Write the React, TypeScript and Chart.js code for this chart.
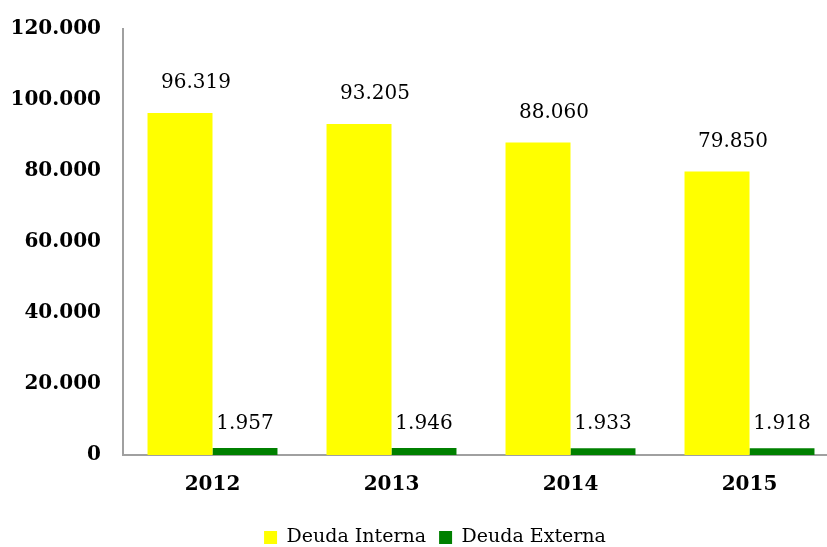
import React, { useEffect, useRef } from "react";
import { Chart, registerables } from "chart.js";

Chart.register(...registerables);

const years = ["2012", "2013", "2014", "2015"];
const deudaInterna = [96319, 93205, 88060, 79850];
const deudaExterna = [1957, 1946, 1933, 1918];
const seriesNames = ["Deuda Interna", "Deuda Externa"];
const seriesColors = ["#FFFF00", "#008000"];

const fmt = (v: number) =>
  Math.round(v).toString().replace(/\B(?=(\d{3})+(?!\d))/g, ".");

const SERIF = "'DejaVu Serif', serif";
const W = 860;
const H = 557;

const labelPlugin = {
  id: "valueLabels",
  afterUpdate(chart: any) {
    const y = chart.scales.y;
    if (y) y._computeLabelArea = () => undefined;
  },
  afterDatasetsDraw(chart: any) {
    const ctx = chart.ctx;
    ctx.save();
    ctx.font = `20px ${SERIF}`;
    ctx.fillStyle = "#000";
    ctx.textAlign = "center";
    ctx.textBaseline = "middle";
    chart.data.datasets.forEach((ds: any, di: number) => {
      const meta = chart.getDatasetMeta(di);
      meta.data.forEach((bar: any, i: number) => {
        const dx = di === 0 ? 16 : 0;
        const dy = di === 0 ? 30 : 24.5;
        ctx.fillText(fmt(ds.data[i]), bar.x + dx, bar.y - dy);
      });
    });
    ctx.restore();
  },
};

export default function App() {
  const ref = useRef<HTMLCanvasElement>(null);
  useEffect(() => {
    document.documentElement.style.overflow = "hidden";
    document.body.style.overflow = "hidden";
    const chart = new Chart(ref.current!, {
      type: "bar",
      data: {
        labels: years,
        datasets: [
          {
            label: seriesNames[0],
            data: deudaInterna,
            backgroundColor: seriesColors[0],
            categoryPercentage: 0.726,
            barPercentage: 1,
          },
          {
            label: seriesNames[1],
            data: deudaExterna,
            backgroundColor: seriesColors[1],
            categoryPercentage: 0.726,
            barPercentage: 1,
          },
        ],
      },
      options: {
        animation: false,
        responsive: false,
        maintainAspectRatio: false,
        layout: { padding: { left: 31, right: W - 839, top: 29, bottom: 0 } },
        plugins: {
          tooltip: { enabled: false },
          legend: {
            position: "bottom",
            labels: {
              boxWidth: 13,
              boxHeight: 13,
              padding: 13,
              color: "#000",
              font: { family: SERIF, size: 19 },
            },
          },
        },
        scales: {
          x: {
            grid: { display: false, drawTicks: false },
            border: { display: true, color: "#a0a0a0", width: 2 },
            ticks: {
              color: "#000",
              padding: 18,
              font: { family: SERIF, size: 20, weight: "bold" },
            },
          },
          y: {
            min: 0,
            max: 120000,
            afterFit: (s: any) => {
              s.width = 92;
              s.paddingTop = 0;
              s.paddingBottom = 0;
            },
            grid: { display: false, drawTicks: false },
            border: { display: true, color: "#a0a0a0", width: 2 },
            ticks: {
              stepSize: 20000,
              color: "#000",
              padding: 22,
              font: { family: SERIF, size: 20, weight: "bold" },
              callback: (v: any) => fmt(Number(v)),
            },
          },
        },
      },
      plugins: [labelPlugin],
    } as any);
    return () => chart.destroy();
  }, []);
  return (
    <div style={{ position: "fixed", left: 0, top: 0, width: W, height: H }}>
      <canvas ref={ref} width={W} height={H} style={{ width: W, height: H }} />
    </div>
  );
}
